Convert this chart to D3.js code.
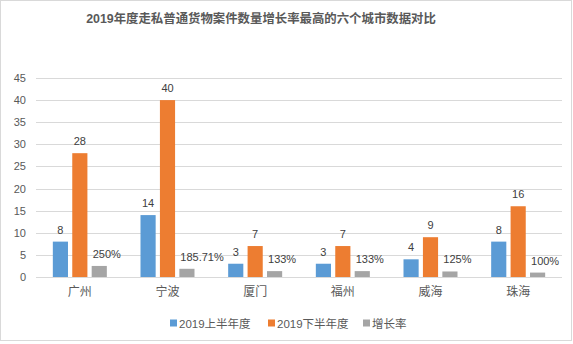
<!DOCTYPE html>
<html><head><meta charset="utf-8">
<script src="https://cdn.jsdelivr.net/npm/d3@7"></script>
<style>
body{margin:0;background:#fff;}
svg{display:block;font-family:"Liberation Sans","Noto Sans CJK SC",sans-serif;}
</style></head>
<body>
<svg id="chart" width="573" height="344"></svg>
<script>
const title = "2019年度走私普通货物案件数量增长率最高的六个城市数据对比";
const categories = ["广州","宁波","厦门","福州","威海","珠海"];
const seriesNames = ["2019上半年度","2019下半年度","增长率"];
const firstHalf = [8,14,3,3,4,8];
const secondHalf = [28,40,7,7,9,16];
const growth = [2.5,1.8571,1.33,1.33,1.25,1.0];
const growthLabels = ["250%","185.71%","133%","133%","125%","100%"];
const yTicks = [0,5,10,15,20,25,30,35,40,45];
const colors = ["#5B9BD5","#ED7D31","#A5A5A5"];

(function(){
const svg = d3.select("#chart");
svg.append("rect").attr("x",0.5).attr("y",0.5).attr("width",571).attr("height",340)
  .attr("fill","#fff").attr("stroke","#D9D9D9");

const pL=36, pR=562, pT=78, pB=277;
const x = d3.scaleBand().domain(categories).range([pL,pR]);
const y = d3.scaleLinear().domain([0,45]).range([pB,pT]);

svg.append("text").attr("x",261).attr("y",23).attr("text-anchor","middle")
  .attr("font-size",12.4).attr("font-weight","bold").attr("fill","#595959").text(title);

svg.append("g").selectAll("line").data(yTicks).join("line")
  .attr("x1",pL).attr("x2",pR).attr("y1",d=>Math.round(y(d))+0.5).attr("y2",d=>Math.round(y(d))+0.5)
  .attr("stroke","#D9D9D9").attr("stroke-width",1);

const yAxis = d3.axisLeft(y).tickValues(yTicks).tickSize(0).tickPadding(0);
const gy = svg.append("g").attr("transform",`translate(${pL-10},0)`).call(yAxis);
gy.select(".domain").remove();
gy.selectAll("text").attr("font-size",11).attr("fill","#595959").attr("font-family","Liberation Sans, sans-serif");

const xAxis = d3.axisBottom(x).tickSize(0).tickPadding(0);
const gx = svg.append("g").attr("transform",`translate(0,${pB+10})`).call(xAxis);
gx.select(".domain").remove();
gx.selectAll("text").attr("font-size",12).attr("fill","#595959").attr("font-family","Noto Sans CJK SC, sans-serif");

const groupW = 54;
const sub = d3.scaleBand().domain([0,1,2]).range([0,groupW]).paddingInner(0.22);
const data = categories.map((c,i)=>({c,vals:[firstHalf[i],secondHalf[i],growth[i]],labs:[String(firstHalf[i]),String(secondHalf[i]),growthLabels[i]]}));
const groups = svg.append("g").selectAll("g").data(data).join("g")
  .attr("transform",d=>`translate(${x(d.c)+x.bandwidth()/2-groupW/2},0)`);
groups.selectAll("rect").data(d=>d.vals.map((v,k)=>({v,k}))).join("rect")
  .attr("x",d=>sub(d.k)).attr("width",sub.bandwidth())
  .attr("y",d=>y(d.v)).attr("height",d=>y(0)-y(d.v))
  .attr("fill",d=>colors[d.k]);
groups.selectAll("text").data(d=>d.vals.map((v,k)=>({v,k,l:d.labs[k]}))).join("text")
  .attr("x",d=>d.k<2? sub(d.k)+sub.bandwidth()/2 : sub(d.k)+1)
  .attr("y",d=>y(d.v)-8)
  .attr("text-anchor",d=>d.k<2?"middle":"start")
  .attr("font-size",11).attr("fill","#404040").text(d=>d.l);

const legX = [170,268,363];
const leg = svg.append("g").selectAll("g").data(seriesNames).join("g")
  .attr("transform",(d,i)=>`translate(${legX[i]},323)`);
leg.append("rect").attr("x",0).attr("y",-3.5).attr("width",7).attr("height",7).attr("fill",(d,i)=>colors[i]);
leg.append("text").attr("x",9).attr("y",4.5).attr("font-size",11.5).attr("fill","#595959").text(d=>d);
})();
</script>
</body></html>
